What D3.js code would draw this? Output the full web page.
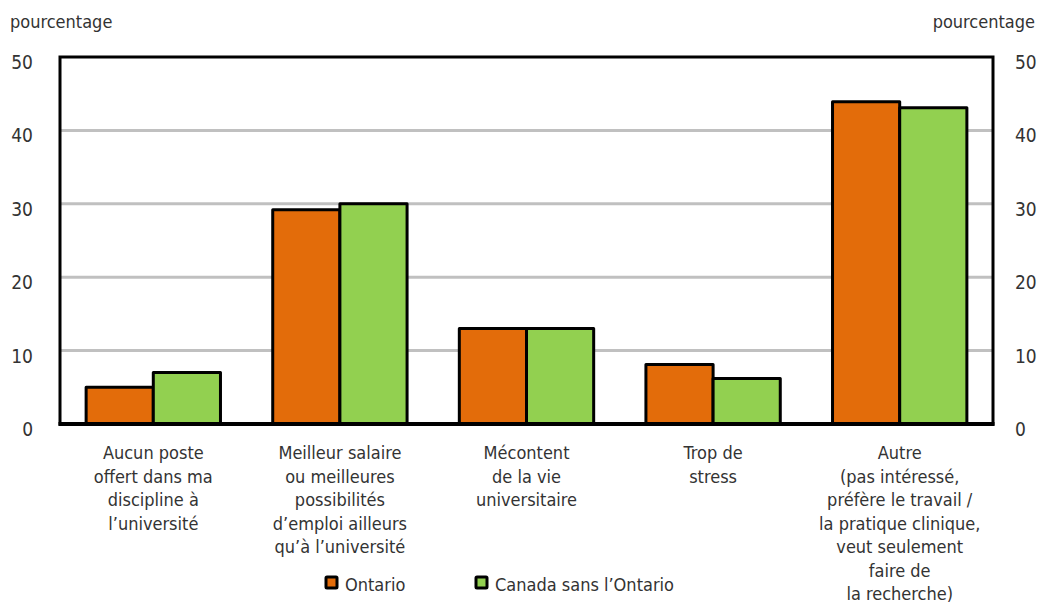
<!DOCTYPE html>
<html>
<head>
<meta charset="utf-8">
<title>Raisons de quitter</title>
<style>
  body {margin: 0; background: #fff;}
  text {font-family: "Liberation Sans Narrow", "DejaVu Sans Condensed", "DejaVu Sans", sans-serif; font-stretch: condensed; fill: #333;}
</style>
</head>
<body>
<svg id="chart" width="1038" height="605"></svg>
<script src="https://d3js.org/d3.v7.min.js"></script>
<script>
var categories = [
  ["Aucun poste", "offert dans ma", "discipline à", "l\u2019université"],
  ["Meilleur salaire", "ou meilleures", "possibilités", "d\u2019emploi ailleurs", "qu\u2019à l\u2019université"],
  ["Mécontent", "de la vie", "universitaire"],
  ["Trop de", "stress"],
  ["Autre", "(pas intéressé,", "préfère le travail /", "la pratique clinique,", "veut seulement", "faire de", "la recherche)"]
];
var ontario = [5, 29.2, 13, 8.1, 43.9];
var canadaSansOntario = [7, 30, 13, 6.2, 43.1];
var seriesNames = ["Ontario", "Canada sans l\u2019Ontario"];
var seriesColors = ["#e36c0a", "#92d050"];
var yTicks = [0, 10, 20, 30, 40, 50];

var svg = d3.select("#chart");
var mLeft = 60, mRight = 993, mTop = 57, mBottom = 424;

var x = d3.scaleBand().domain(d3.range(categories.length)).range([mLeft, mRight]).paddingInner(0.28).paddingOuter(0.14);
var x1 = d3.scaleBand().domain([0, 1]).range([0, x.bandwidth()]);
var y = d3.scaleLinear().domain([0, 50]).range([mBottom, mTop]);

// gridlines
svg.append("g").selectAll("line").data(yTicks.filter(function(d){return d > 0 && d < 50;}))
  .enter().append("line")
  .attr("x1", mLeft).attr("x2", mRight)
  .attr("y1", function(d){return y(d);}).attr("y2", function(d){return y(d);})
  .attr("stroke", "#c0c0c0").attr("stroke-width", 3);

// bars
var rows = d3.range(categories.length).map(function(i){return [ontario[i], canadaSansOntario[i]];});
var groups = svg.append("g").selectAll("g").data(rows).enter().append("g")
  .attr("transform", function(d, i){return "translate(" + x(i) + ",0)";});
groups.selectAll("rect").data(function(d){return d;}).enter().append("rect")
  .attr("x", function(d, j){return x1(j);})
  .attr("y", function(d){return y(d);})
  .attr("width", x1.bandwidth())
  .attr("height", function(d){return y(0) - y(d);})
  .attr("fill", function(d, j){return seriesColors[j];})
  .attr("stroke", "#000").attr("stroke-width", 3).attr("stroke-linejoin", "round");

// frame
svg.append("rect").attr("x", mLeft).attr("y", mTop).attr("width", mRight - mLeft).attr("height", mBottom - mTop)
  .attr("fill", "none").attr("stroke", "#000").attr("stroke-width", 3);
svg.append("line").attr("x1", mLeft - 1.5).attr("x2", mRight + 1.5).attr("y1", mBottom).attr("y2", mBottom)
  .attr("stroke", "#000").attr("stroke-width", 4);

// y axis labels
var yl = svg.append("g").selectAll("text").data(yTicks).enter();
yl.append("text").attr("x", 33).attr("y", function(d){return y(d) + 12;})
  .attr("text-anchor", "end").attr("font-size", 19).text(function(d){return d;});
yl.append("text").attr("x", 1015).attr("y", function(d){return y(d) + 12;})
  .attr("text-anchor", "start").attr("font-size", 19).text(function(d){return d;});

svg.append("text").attr("x", 10).attr("y", 28).attr("font-size", 18).text("pourcentage");
svg.append("text").attr("x", 1035).attr("y", 28).attr("text-anchor", "end").attr("font-size", 18).text("pourcentage");

// category labels
var cl = svg.append("g").selectAll("text").data(categories).enter().append("text")
  .attr("text-anchor", "middle").attr("font-size", 18)
  .attr("transform", function(d, i){return "translate(" + (x(i) + x.bandwidth() / 2) + ",0)";});
cl.selectAll("tspan").data(function(d){return d;}).enter().append("tspan")
  .attr("x", 0).attr("y", function(d, k){return 459 + k * 23.5;}).text(function(d){return d;});

// legend
var legX = [326, 476];
var lg = svg.append("g").selectAll("g").data(seriesNames).enter().append("g")
  .attr("transform", function(d, i){return "translate(" + legX[i] + ",577)";});
lg.append("rect").attr("x", 0).attr("y", 0).attr("width", 11).attr("height", 11)
  .attr("fill", function(d, i){return seriesColors[i];})
  .attr("stroke", "#000").attr("stroke-width", 3).attr("rx", 1);
lg.append("text").attr("x", 19).attr("y", 14).attr("font-size", 18).text(function(d){return d;});
</script>
</body>
</html>
